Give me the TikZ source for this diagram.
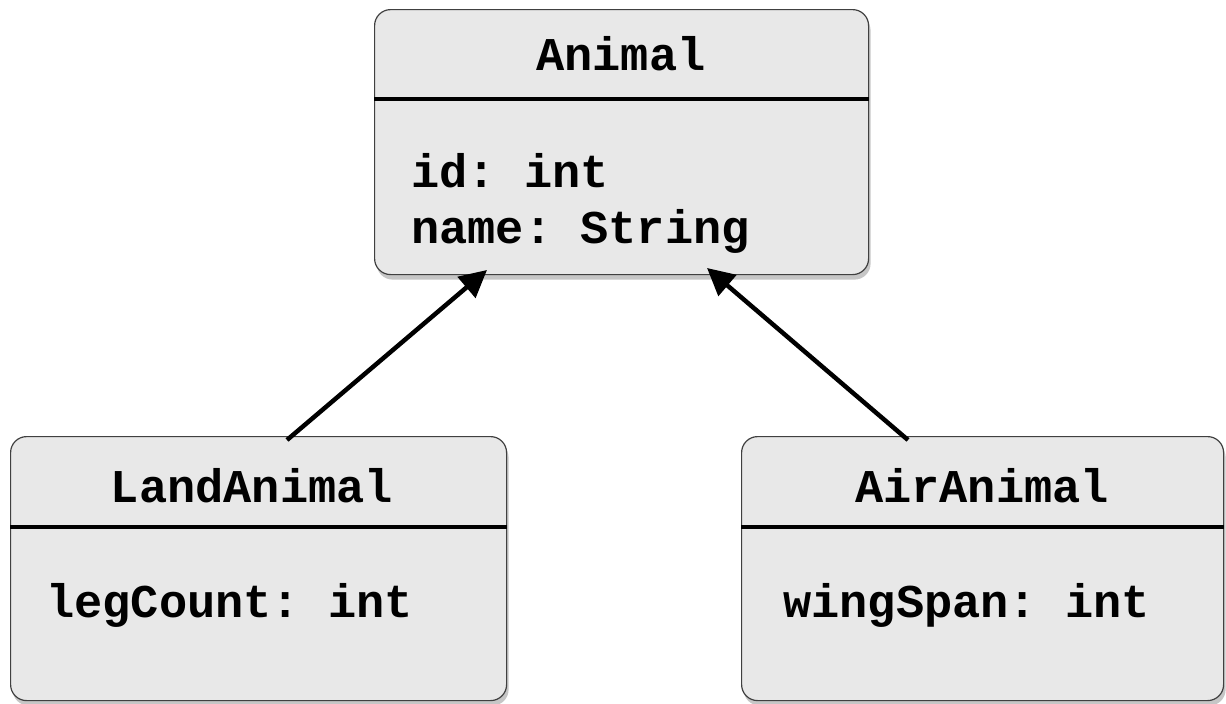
\documentclass[tikz,border=0pt]{standalone}
\usepackage{fontspec}
\setmonofont{Liberation Mono}
\usetikzlibrary{arrows.meta,shadows}
\begin{document}
\begin{tikzpicture}[x=1pt,y=-1pt,
  umlbox/.style={draw=black!75, line width=1.2pt, fill=black!9, rounded corners=16pt, anchor=north west, inner sep=0pt,
    drop shadow={opacity=0.45, shadow xshift=2pt, shadow yshift=-5pt}},
  umltext/.style={font=\fontsize{47}{56}\selectfont\ttfamily\bfseries, inner sep=0pt, anchor=base west},
  umltitle/.style={font=\fontsize{47}{56}\selectfont\ttfamily\bfseries, inner sep=0pt, anchor=base},
  sepline/.style={line width=4pt, black},
  inherit/.style={line width=4.5pt, -{Triangle[length=27pt,width=27pt]}}
]
\useasboundingbox (0,0) rectangle (1226,704);
% boxes
\node[umlbox, minimum width=494pt, minimum height=265pt] (animal) at (374,9) {};
\node[umlbox, minimum width=496pt, minimum height=264pt] (land) at (10,436) {};
\node[umlbox, minimum width=482pt, minimum height=264pt] (air) at (741,436) {};
% separators
\draw[sepline] (animal.west |- 0,99) -- (animal.east |- 0,99);
\draw[sepline] (land.west |- 0,527) -- (land.east |- 0,527);
\draw[sepline] (air.west |- 0,527) -- (air.east |- 0,527);
% texts
\node[umltitle] (animalT) at (621,70) {Animal};
\node[umltext] (animalA1) at (411,187) {id: int};
\node[umltext] (animalA2) at (411,243) {name: String};
\node[umltitle] (landT) at (252,502) {LandAnimal};
\node[umltext] (landA1) at (46,617) {legCount: int};
\node[umltitle] (airT) at (982,502) {AirAnimal};
\node[umltext] (airA1) at (783,617) {wingSpan: int};
% connectors
\coordinate (l1) at (287,440);
\coordinate (l2) at (487,270);
\coordinate (r1) at (908,440);
\coordinate (r2) at (707,268);
\draw[inherit] (l1) -- (l2);
\draw[inherit] (r1) -- (r2);
\end{tikzpicture}
\end{document}
